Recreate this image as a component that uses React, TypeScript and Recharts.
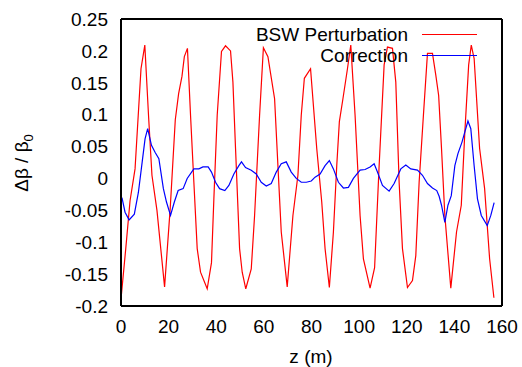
import { LineChart, Line, XAxis, YAxis } from 'recharts';

const xTicks = [0, 20, 40, 60, 80, 100, 120, 140, 160];
const yTicks = [-0.2, -0.15, -0.1, -0.05, 0, 0.05, 0.1, 0.15, 0.2, 0.25];

// BSW perturbation (red)
const redZ = [
  0.2, 2.0, 3.8, 5.9, 8.4, 10.0, 11.6, 13.0, 15.1, 18.3,
  20.7, 22.8, 24.2, 25.6, 26.6, 27.9, 29.2, 30.6, 32.0, 33.4,
  36.2, 38.0, 39.0, 40.4, 42.2, 43.9, 46.0, 47.0, 48.1, 49.8,
  50.9, 52.4, 54.7, 56.1, 58.2, 59.8, 61.7, 64.5, 65.9, 67.3,
  69.8, 72.2, 74.3, 75.7, 77.0, 79.6, 82.2, 84.3, 85.7, 87.5,
  89.2, 90.6, 91.7, 93.2, 95.1, 96.5, 98.3, 100.4, 101.8, 104.6,
  106.5, 108.4, 110.5, 111.9, 114.0, 115.4, 116.8, 118.2, 120.3, 122.4,
  123.8, 125.2, 127.0, 128.7, 130.8, 132.2, 133.4, 134.6, 136.0, 138.5,
  140.9, 142.9, 144.4, 146.0, 147.1, 148.3, 150.6, 152.7, 154.8, 156.6,
];
const redV = [
  -0.181, -0.11, -0.035, 0.015, 0.172, 0.209, 0.096, 0.005, -0.05, -0.17,
  -0.045, 0.092, 0.133, 0.16, 0.191, 0.204, 0.099, -0.006, -0.11, -0.147,
  -0.173, -0.132, -0.032, 0.099, 0.199, 0.208, 0.2, 0.151, 0.047, -0.11,
  -0.147, -0.173, -0.142, -0.058, 0.099, 0.205, 0.191, 0.125, 0.02, -0.084,
  -0.17, -0.058, 0.005, 0.099, 0.157, 0.172, 0.047, -0.037, -0.11, -0.171,
  -0.084, 0.02, 0.089, 0.125, 0.172, 0.209, 0.099, -0.058, -0.126, -0.172,
  -0.14, 0.02, 0.178, 0.206, 0.204, 0.151, -0.006, -0.11, -0.171, -0.16,
  -0.121, -0.006, 0.099, 0.196, 0.196, 0.162, 0.13, 0.047, -0.058, -0.172,
  -0.084, -0.042, 0.073, 0.178, 0.209, 0.188, 0.047, -0.016, -0.126, -0.187,
];

// Correction (blue)
const blueZ = [
  0.4, 1.7, 3.4, 5.6, 7.3, 8.9, 10.1, 11.2, 12.8, 14.3,
  15.9, 17.8, 19.1, 20.8, 22.4, 24.0, 26.1, 27.8, 30.6, 32.7,
  34.4, 36.6, 38.0, 39.7, 41.4, 43.6, 45.3, 47.4, 49.5, 50.6,
  52.3, 54.7, 56.8, 58.9, 61.0, 63.1, 65.2, 67.3, 69.4, 71.5,
  73.6, 75.7, 77.8, 79.9, 81.5, 83.6, 85.7, 87.5, 89.2, 91.3,
  93.4, 95.5, 97.6, 100.4, 102.5, 104.6, 106.3, 107.7, 109.8, 112.6,
  114.7, 117.5, 119.6, 121.7, 124.5, 126.6, 128.7, 130.8, 132.6, 133.6,
  134.6, 136.0, 137.3, 138.7, 140.2, 141.5, 143.2, 144.4, 145.7, 146.9,
  148.3, 149.7, 151.3, 153.8, 155.3, 156.7,
];
const blueV = [
  -0.03, -0.053, -0.065, -0.056, -0.022, 0.026, 0.062, 0.078, 0.052, 0.041,
  0.031, -0.016, -0.037, -0.058, -0.037, -0.019, -0.016, 0.0, 0.015, 0.015,
  0.018, 0.018, 0.01, -0.006, -0.016, -0.019, -0.011, 0.007, 0.02, 0.026,
  0.017, 0.013, 0.007, -0.006, -0.012, -0.008, 0.01, 0.023, 0.026, 0.01,
  0.0, -0.006, -0.006, -0.004, 0.002, 0.007, 0.02, 0.028, 0.015, -0.006,
  -0.015, -0.014, 0.0, 0.013, 0.014, 0.018, 0.023, 0.01, -0.011, -0.02,
  -0.008, 0.015, 0.021, 0.015, 0.013, 0.005, -0.008, -0.015, -0.019, -0.028,
  -0.042, -0.069, -0.042, -0.027, 0.02, 0.039, 0.057, 0.073, 0.09, 0.078,
  0.02, -0.032, -0.058, -0.074, -0.058, -0.038,
];

const redData = redZ.map((z, i) => ({ z, v: redV[i] }));
const blueData = blueZ.map((z, i) => ({ z, v: blueV[i] }));

const FONT = '"Liberation Sans", Arial, sans-serif';
const FS = 19;

const legendItems = [
  { label: 'BSW Perturbation', color: '#ff0000' },
  { label: 'Correction', color: '#0000ff' },
];

const KeyBox = () => (
  <div
    style={{
      position: 'absolute',
      left: 240,
      top: 24,
      fontFamily: FONT,
      fontSize: FS,
      color: '#000',
      pointerEvents: 'none',
    }}
  >
    {legendItems.map((it) => (
      <div key={it.label} style={{ display: 'flex', alignItems: 'center', height: 21 }}>
        <span style={{ width: 168, textAlign: 'right', lineHeight: '21px', whiteSpace: 'nowrap' }}>{it.label}</span>
        <svg width={69} height={21} style={{ display: 'block' }}>
          <line x1={14} y1={10.5} x2={69} y2={10.5} stroke={it.color} strokeWidth={1.2} />
        </svg>
      </div>
    ))}
  </div>
);

const fmt = (v: number) => (Math.abs(v) < 1e-9 ? '0' : String(Number(v.toFixed(2))));

const border = { stroke: '#000', strokeWidth: 2 };
const tickLn = { stroke: '#000', strokeWidth: 1.5 };

export default function App() {
  return (
    <div style={{ position: 'absolute', left: 0, top: 0, width: 522, height: 367, background: '#fff' }}>
      <LineChart width={522} height={367} margin={{ top: 19, right: 20, left: 0, bottom: 0 }}>
        {/* inward tick marks and frame, all four sides */}
        <XAxis xAxisId="bm" orientation="bottom" mirror type="number" dataKey="z" domain={[0, 160]} ticks={xTicks}
          height={1} tick={false} tickSize={5} axisLine={border} tickLine={tickLn} />
        <XAxis xAxisId="t" orientation="top" mirror type="number" dataKey="z" domain={[0, 160]} ticks={xTicks}
          height={1} tick={false} tickSize={5} axisLine={border} tickLine={tickLn} />
        <YAxis yAxisId="lm" orientation="left" mirror type="number" domain={[-0.2, 0.25]} ticks={yTicks}
          width={1} tick={false} tickSize={5} axisLine={border} tickLine={tickLn} />
        <YAxis yAxisId="r" orientation="right" mirror type="number" domain={[-0.2, 0.25]} ticks={yTicks}
          width={1} tick={false} tickSize={5} axisLine={border} tickLine={tickLn} />
        {/* labelled axes */}
        <XAxis
          xAxisId="b"
          dataKey="z"
          type="number"
          domain={[0, 160]}
          ticks={xTicks}
          allowDataOverflow
          height={61}
          axisLine={false}
          tickLine={false}
          tickSize={0}
          tickMargin={14}
          tick={{ fill: '#000', fontSize: FS, fontFamily: FONT }}
          label={{
            content: () => (
              <text x={311} y={363} textAnchor="middle" fontSize={FS} fontFamily={FONT} fill="#000">
                z (m)
              </text>
            ),
          }}
        />
        <YAxis
          yAxisId="l"
          type="number"
          domain={[-0.2, 0.25]}
          ticks={yTicks}
          allowDataOverflow
          width={121}
          axisLine={false}
          tickLine={false}
          tickSize={0}
          tickMargin={13}
          tickFormatter={fmt}
          tick={{ fill: '#000', fontSize: FS, fontFamily: FONT }}
          label={{
            content: () => (
              <text
                x={27.5}
                y={163}
                transform="rotate(-90, 27.5, 163)"
                textAnchor="middle"
                fontSize={FS}
                fontFamily={FONT}
                fill="#000"
              >
                Δβ / β<tspan dy={5} fontSize={13}>0</tspan>
              </text>
            ),
          }}
        />
        <Line
          xAxisId="b"
          yAxisId="l"
          data={redData}
          dataKey="v"
          type="linear"
          stroke="#ff0000"
          strokeWidth={1.2}
          dot={false}
          isAnimationActive={false}
        />
        <Line
          xAxisId="b"
          yAxisId="l"
          data={blueData}
          dataKey="v"
          type="linear"
          stroke="#0000ff"
          strokeWidth={1.2}
          dot={false}
          isAnimationActive={false}
        />
      </LineChart>
      <KeyBox />
    </div>
  );
}
